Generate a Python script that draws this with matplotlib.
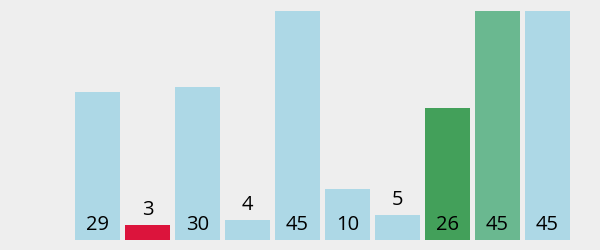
import matplotlib.pyplot as plt

values = [29, 3, 30, 4, 45, 10, 5, 26, 45, 45]
colors = ['#add8e6', '#dc143c', '#add8e6', '#add8e6', '#add8e6',
          '#add8e6', '#add8e6', '#43a05a', '#6ab890', '#add8e6']

plt.rcParams['font.family'] = ['Open Sans', 'DejaVu Sans']

fig = plt.figure(figsize=(6, 2.5), dpi=100, facecolor='#eeeeee')
ax = fig.add_axes([0, 0, 1, 1])
ax.set_facecolor('#eeeeee')

x = range(len(values))
ax.bar(x, values, width=0.9, color=colors)

# pixel layout: bars start at 75px, step 50px, baseline 10px from bottom, max 45 -> 229px
ax.set_xlim(-97.5 / 50, (600 - 97.5) / 50)
ax.set_ylim(-10 / 229 * 45, 240 / 229 * 45)
ax.axis('off')

px = 45 / 229
for i, v in enumerate(values):
    h = v / px
    if h > 40:
        y = 0
    else:
        y = v
    ax.annotate(str(v), (i, y), xytext=(0, 3.5), textcoords='offset points',
                ha='center', va='bottom', fontsize=14.5, color='black')

fig.savefig('out.png', dpi=100, facecolor='#eeeeee')
